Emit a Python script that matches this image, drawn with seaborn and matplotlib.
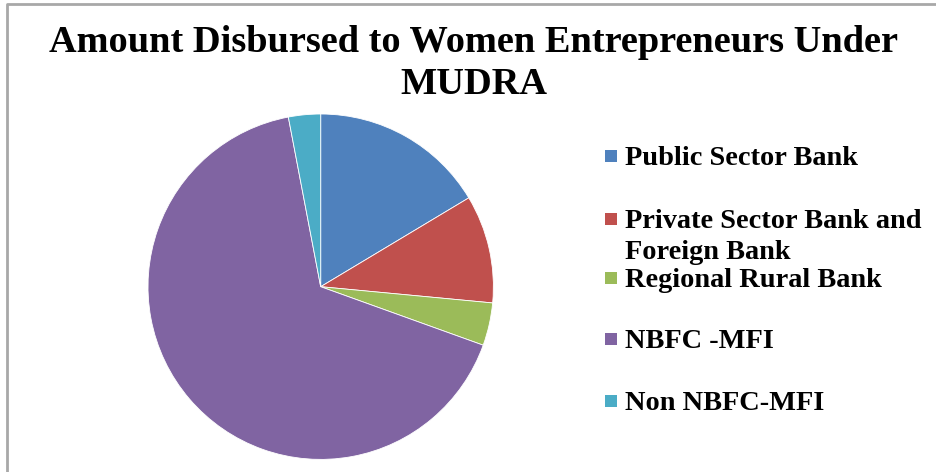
import numpy as np
import matplotlib
matplotlib.use("Agg")
import matplotlib.pyplot as plt
import seaborn as sns
from matplotlib.patches import Rectangle
from matplotlib.lines import Line2D

labels = ["Public Sector Bank", "Private Sector Bank and\nForeign Bank",
          "Regional Rural Bank", "NBFC -MFI", "Non NBFC-MFI"]
shares = [16.4, 10.1, 4.0, 66.5, 3.0]
colors = ["#4F81BD", "#C0504D", "#9BBB59", "#8064A2", "#4BACC6"]

sns.set_theme(style="white")
plt.rcParams['font.family'] = ['Liberation Serif', 'DejaVu Serif']
pal = sns.color_palette(colors)

W, H = 937, 472
fig = plt.figure(figsize=(W / 100, H / 100), dpi=100)
fig.patch.set_facecolor("white")

# chart frame (only top and left edges are visible)
fig.lines.append(Line2D([7 / W, 7 / W, 1], [0, 1 - 4 / H, 1 - 4 / H],
                        transform=fig.transFigure, color="#A8A8A8",
                        linewidth=2))

cx, cy, r = 320.7, 286.7, 172.7
ax = fig.add_axes([(cx - r) / W, (H - cy - r) / H, 2 * r / W, 2 * r / H])
ax.pie(shares, colors=pal, startangle=90, counterclock=False,
       wedgeprops=dict(edgecolor="white", linewidth=0.6))
ax.set_xlim(-1, 1)
ax.set_ylim(-1, 1)
ax.set_aspect("equal")
ax.axis("off")

fig.text(474 / W, 1 - 52 / H, "Amount Disbursed to Women Entrepreneurs Under",
         ha="center", va="baseline", fontsize=27.6, fontweight="bold",
         color="black")
fig.text(474 / W, 1 - 94 / H, "MUDRA",
         ha="center", va="baseline", fontsize=27.6, fontweight="bold",
         color="black")

# legend (baseline of first line of each entry)
baselines = [165, 228, 287, 348, 410]
line_gap = 31
for lab, col, y in zip(labels, pal, baselines):
    fig.patches.append(Rectangle((605 / W, 1 - (y - 3) / H), 12 / W, 12 / H,
                                 transform=fig.transFigure, facecolor=col,
                                 edgecolor="none"))
    for i, part in enumerate(lab.split("\n")):
        fig.text(625 / W, 1 - (y + i * line_gap) / H, part, ha="left",
                 va="baseline", fontsize=20.4, fontweight="bold",
                 color="black")

fig.savefig("out.png", dpi=100)
